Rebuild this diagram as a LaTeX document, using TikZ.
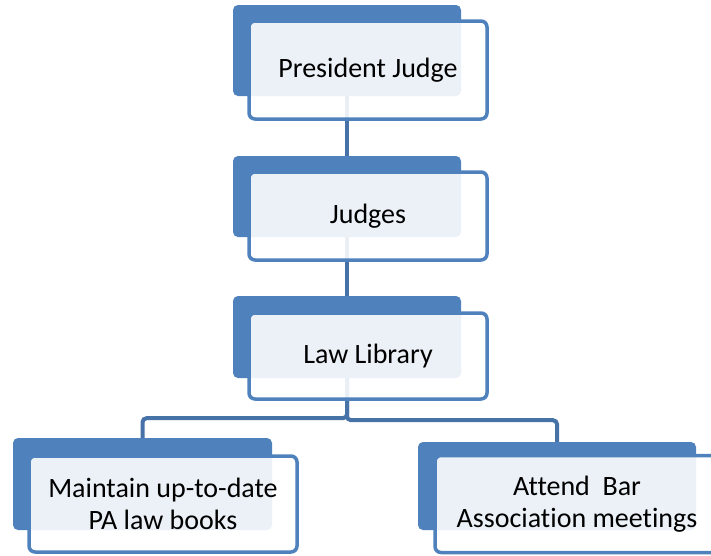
\documentclass[tikz,border=0pt]{standalone}
\usepackage{fontspec}
\setmainfont{Carlito}[Ligatures=NoCommon]
\usetikzlibrary{positioning}
\definecolor{boxBlue}{HTML}{4F81BD}
\definecolor{lineBlue}{HTML}{4672A8}

\begin{document}
\begin{tikzpicture}[x=1pt, y=-1pt,
    back/.style={rectangle, draw=none, fill=boxBlue, rounded corners=5pt, inner sep=0pt},
    front/.style={rectangle, draw=boxBlue, line width=3.5pt, fill=white, fill opacity=0.89, text opacity=1, rounded corners=6pt, inner sep=0pt, align=center, font=\fontsize{28}{32}\selectfont},
    link/.style={draw=lineBlue, line width=4pt}
]
\useasboundingbox (0,0) rectangle (711,555);
\clip (0,0) rectangle (711,555);

% Back panels
\node[back, minimum width=228pt, minimum height=91pt] (pjBack) at (347, 50.5) {};
\node[back, minimum width=228pt, minimum height=81pt] (judBack) at (347, 196.5) {};
\node[back, minimum width=228pt, minimum height=82pt] (libBack) at (347, 337) {};
\node[back, minimum width=259pt, minimum height=92pt] (booksBack) at (142.5, 484) {};
\node[back, minimum width=278pt, minimum height=88pt] (barBack) at (557, 486) {};

% Connectors
\draw[link] (pjBack.south) -- (judBack.north);
\draw[link] (judBack.south) -- (libBack.north);
\draw[link, rounded corners=4pt] (libBack.south) -- ++(0,40) -| (booksBack.north);
\draw[link, rounded corners=4pt] (libBack.south) -- ++(0,42) -| (barBack.north);

% Front boxes with text
\node[front, minimum width=238pt, minimum height=98pt] (pj) at (368, 70) {President Judge};
\node[front, minimum width=238pt, minimum height=88pt] (jud) at (368, 216) {Judges};
\node[front, minimum width=238pt, minimum height=86pt] (lib) at (368, 356) {Law Library};
\node[front, minimum width=268pt, minimum height=96pt] (books) at (163, 504) {Maintain up-to-date\\PA law books};
\node[front, minimum width=284pt, minimum height=97pt] (bar) at (577, 504) {Attend~~Bar\\Association meetings};

\end{tikzpicture}
\end{document}
